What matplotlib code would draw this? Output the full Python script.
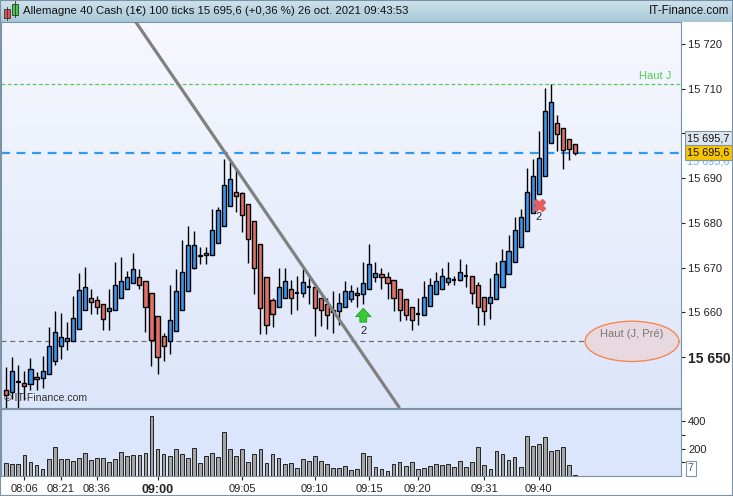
import matplotlib.pyplot as plt
import numpy as np
from matplotlib.patches import Rectangle, Ellipse
import matplotlib.transforms as mtransforms

plt.rcParams['font.family'] = ['Liberation Sans', 'DejaVu Sans']

# --- data (100 ticks candles, DAX cash) ---
opens = [15642.6, 15642.1, 15644.4, 15644.3, 15643.9, 15645.6, 15645.4, 15646.1, 15649.2, 15652.4,
         15653.5, 15653.6, 15656.2, 15660.6, 15663.1, 15662.7, 15661.8, 15660.2, 15660.4, 15663.3,
         15665.1, 15666.5, 15668.0, 15667.1, 15664.2, 15659.1, 15654.6, 15653.5, 15655.9, 15660.4,
         15664.7, 15669.8, 15672.5, 15672.7, 15672.9, 15675.6, 15679.2, 15683.7, 15686.8, 15686.6,
         15684.1, 15680.3, 15675.2, 15668.0, 15662.7, 15661.1, 15663.3, 15665.1, 15664.4, 15664.2,
         15665.6, 15665.6, 15663.1, 15661.8, 15660.6, 15660.2, 15661.1, 15662.9, 15663.8, 15664.0,
         15665.3, 15668.0, 15668.5, 15668.0, 15667.3, 15665.3, 15662.9, 15661.1, 15659.7, 15659.5,
         15661.5, 15664.0, 15665.3, 15666.7, 15667.3, 15667.3, 15668.2, 15668.2, 15666.2, 15663.5,
         15662.0, 15662.9, 15665.6, 15668.5, 15671.2, 15674.7, 15678.1, 15682.3, 15686.4, 15690.4,
         15697.8, 15702.3, 15701.1, 15698.7, 15697.6]
highs = [15647.7, 15650.0, 15648.2, 15646.9, 15649.7, 15646.7, 15650.2, 15656.7, 15660.2, 15659.8,
         15657.8, 15663.7, 15668.8, 15670.1, 15665.1, 15663.7, 15661.8, 15665.2, 15671.2, 15672.4,
         15669.2, 15673.2, 15669.7, 15667.1, 15664.2, 15659.1, 15655.3, 15666.2, 15669.7, 15676.1,
         15679.3, 15678.2, 15674.7, 15674.7, 15683.2, 15683.5, 15694.2, 15693.7, 15692.0, 15687.0,
         15684.1, 15680.3, 15675.2, 15668.0, 15663.1, 15670.0, 15670.0, 15667.3, 15668.2, 15669.6,
         15667.6, 15665.6, 15663.1, 15663.1, 15664.7, 15664.2, 15667.1, 15666.2, 15665.6, 15671.2,
         15675.2, 15671.2, 15670.0, 15669.1, 15667.3, 15665.3, 15662.9, 15661.1, 15663.1, 15667.1,
         15667.6, 15669.1, 15670.0, 15671.2, 15668.2, 15672.0, 15670.9, 15668.2, 15666.7, 15663.5,
         15667.6, 15671.2, 15674.1, 15677.2, 15681.2, 15683.2, 15692.2, 15694.2, 15700.5, 15710.1,
         15711.0, 15704.0, 15701.1, 15698.7, 15697.6]
lows = [15638.1, 15640.7, 15638.5, 15640.4, 15642.7, 15642.7, 15643.1, 15646.1, 15648.2, 15649.5,
        15651.5, 15653.6, 15656.2, 15660.6, 15659.7, 15659.7, 15656.1, 15656.1, 15660.4, 15663.3,
        15665.1, 15666.5, 15665.1, 15655.6, 15648.1, 15646.1, 15649.2, 15650.6, 15655.9, 15660.4,
        15664.7, 15669.6, 15670.7, 15670.7, 15672.9, 15675.6, 15679.2, 15683.7, 15682.4, 15677.9,
        15671.0, 15664.1, 15655.2, 15655.2, 15656.6, 15661.1, 15663.1, 15659.7, 15660.6, 15663.5,
        15661.8, 15654.6, 15657.0, 15656.2, 15655.3, 15657.1, 15661.1, 15662.2, 15661.1, 15661.8,
        15665.3, 15666.7, 15665.1, 15663.0, 15660.2, 15658.1, 15658.2, 15656.1, 15657.1, 15659.5,
        15661.5, 15664.0, 15665.3, 15666.2, 15666.2, 15667.1, 15665.6, 15661.8, 15657.1, 15657.1,
        15658.6, 15662.9, 15665.6, 15668.5, 15671.2, 15674.7, 15678.1, 15682.3, 15686.4, 15690.4,
        15697.8, 15696.0, 15692.0, 15694.0, 15695.1]
closes = [15641.6, 15646.8, 15644.4, 15643.6, 15647.4, 15645.0, 15646.8, 15652.4, 15655.7, 15654.4,
          15654.2, 15658.8, 15664.9, 15665.6, 15662.2, 15661.1, 15658.6, 15660.9, 15666.0, 15667.1,
          15667.9, 15669.7, 15666.2, 15661.1, 15653.9, 15650.1, 15652.4, 15658.2, 15664.7, 15668.9,
          15675.0, 15675.0, 15672.9, 15673.2, 15678.4, 15682.8, 15688.4, 15689.9, 15686.1, 15681.7,
          15676.3, 15670.0, 15660.9, 15657.1, 15659.7, 15665.6, 15667.1, 15663.1, 15664.4, 15666.7,
          15665.6, 15660.9, 15660.4, 15659.5, 15660.0, 15662.0, 15664.7, 15664.7, 15664.2, 15666.5,
          15670.9, 15668.7, 15667.8, 15666.5, 15663.3, 15660.6, 15659.5, 15658.2, 15659.7, 15663.5,
          15666.2, 15666.9, 15668.2, 15667.6, 15667.3, 15668.9, 15668.2, 15664.2, 15661.1, 15660.2,
          15663.5, 15668.5, 15671.4, 15673.8, 15678.5, 15681.2, 15686.8, 15690.4, 15694.4, 15704.9,
          15707.0, 15699.8, 15696.2, 15696.4, 15695.6]
volumes = [93, 85, 85, 151, 100, 78, 49, 122, 210, 122,
           122, 107, 129, 166, 115, 129, 129, 100, 122, 173,
           144, 151, 151, 166, 437, 195, 159, 144, 195, 159,
           129, 203, 93, 144, 166, 137, 320, 195, 144, 195,
           100, 159, 195, 93, 159, 129, 85, 93, 56, 122,
           107, 144, 107, 85, 56, 56, 71, 42, 49, 166,
           144, 63, 49, 34, 85, 100, 71, 100, 49, 56,
           71, 85, 78, 85, 63, 107, 63, 100, 210, 78,
           49, 181, 159, 115, 137, 63, 291, 217, 232, 283,
           181, 188, 210, 78, 5]

time_labels = ['08:06', '08:21', '08:36', '09:00', '09:05', '09:10', '09:15', '09:20', '09:31', '09:40']
time_pos = [3, 9, 15, 25, 39, 51, 60, 68, 79, 88]

last_price = 15695.6
prev_price = 15695.7
haut_j = 15711.0
haut_j_pre = 15653.5
trend_x = [21.4, 65.0]
trend_y = [15724.9, 15638.6]

blue = '#3a96ee'
red = '#e07068'
edge = '#7a93a6'

fig = plt.figure(figsize=(7.33, 4.96), dpi=100)
fig.patch.set_facecolor('white')

W, H = 733, 496
def box(x0, y0, x1, y1):
    return [x0 / W, 1 - y1 / H, (x1 - x0) / W, (y1 - y0) / H]

# title bar
axt = fig.add_axes(box(0, 0, 733, 22))
grad = np.linspace(0, 1, 50).reshape(-1, 1)
axt.imshow(grad, cmap=plt.matplotlib.colors.LinearSegmentedColormap.from_list('t', ['#cfe3ec', '#a7c6d6']),
           aspect='auto', extent=[0, 1, 0, 1], origin='upper')
axt.set_xlim(0, 1)
axt.set_ylim(0, 1)
axt.axis('off')
axt.add_patch(Rectangle((0.006, 0.18), 0.008, 0.4, fc='#e05050', ec='#333333', lw=0.6))
axt.add_patch(Rectangle((0.016, 0.30), 0.008, 0.5, fc='#40d040', ec='#333333', lw=0.6))
axt.plot([0.010, 0.010], [0.08, 0.68], color='#333333', lw=0.6)
axt.plot([0.020, 0.020], [0.22, 0.95], color='#333333', lw=0.6)
axt.text(0.031, 0.48, 'Allemagne 40 Cash (1€) 100 ticks 15 695,6 (+0,36 %) 26 oct. 2021 09:43:53',
         fontsize=8.2, va='center', ha='left', color='#111111')
axt.text(0.995, 0.48, 'IT-Finance.com', fontsize=8.4, va='center', ha='right', color='#111111')

# main price panel
ax = fig.add_axes(box(1, 22, 681, 408))
axv = fig.add_axes(box(1, 409, 681, 476))

xmin, xmax = -0.87, 111.5
ymin, ymax = 15638.6, 15724.9

bg = np.linspace(0, 1, 100).reshape(-1, 1)
ax.imshow(bg, cmap=plt.matplotlib.colors.LinearSegmentedColormap.from_list('b', ['#f6f8fe', '#dce5fa']),
          aspect='auto', extent=[xmin, xmax, ymin, ymax], origin='upper', zorder=0)
axv.set_facecolor('#dbe5fb')

x = np.arange(len(opens))
o = np.array(opens)
c = np.array(closes)
up = c > o + 0.2
dn = c < o - 0.2
doji = ~(up | dn)

ax.vlines(x, lows, highs, color='black', lw=1, zorder=3)
ax.bar(x[up], (c - o)[up], bottom=o[up], width=0.68, color=blue, edgecolor='black', lw=1, zorder=4)
ax.bar(x[dn], (o - c)[dn], bottom=c[dn], width=0.68, color=red, edgecolor='black', lw=1, zorder=4)
ax.hlines(o[doji], x[doji] - 0.36, x[doji] + 0.36, color='black', lw=1.6, zorder=4)

# horizontal reference lines
ax.axhline(last_price, color='#3399ee', lw=1.6, ls=(0, (4, 3)), zorder=2)
ax.axhline(haut_j, color='#55cc55', lw=0.9, ls=(0, (3, 2)), zorder=2)
ax.axhline(haut_j_pre, color='#707070', lw=0.9, ls=(0, (4, 3)), zorder=2)
ax.text(107.2, 15712.9, 'Haut J', color='#55cc55', fontsize=8, ha='center', va='center')

# ellipse label
ax.add_patch(Ellipse((103.4, haut_j_pre), 15.5, 9.0, fc='#e8d9e0', ec='#f28a50', lw=1, zorder=5))
ax.text(103.4, 15655.2, 'Haut (J, Pré)', color='#777777', fontsize=8, ha='center', va='center', zorder=6)

# trend line
ax.plot(trend_x, trend_y, color='#808080', lw=2.3, zorder=5, solid_capstyle='butt')

# signals
ax.annotate('', xy=(59, 15660.9), xytext=(59, 15657.8),
            arrowprops=dict(arrowstyle='simple,head_width=1.0,head_length=0.55,tail_width=0.45',
                            mutation_scale=11, fc='#33cc33', ec='#229922', lw=0.6,
                            shrinkA=0, shrinkB=0), zorder=6)
ax.text(59, 15655.9, '2', fontsize=8, ha='center', va='center', color='#222222')
ax.plot(88, 15684.0, marker='X', ms=9, color='#e06060', mec='#e06060', zorder=6)
ax.text(88, 15681.3, '2', fontsize=8, ha='center', va='center', color='#222222')

ax.text(0.004, 0.012, '© IT-Finance.com', transform=ax.transAxes, fontsize=7.6, color='#333333',
        ha='left', va='bottom')

ax.set_xlim(xmin, xmax)
ax.set_ylim(ymin, ymax)
ax.set_xticks([])
ax.yaxis.tick_right()
yt = list(range(15650, 15730, 10))
ax.set_yticks(yt)
# the 15 700 label sits under the price tags
ax.set_yticklabels(['' if v == 15700 else f'{v:,}'.replace(',', ' ') for v in yt], fontsize=8)
ax.tick_params(axis='y', length=3, width=0.8, pad=2, colors='#222222')
tl = ax.get_yticklabels()[0]
tl.set_fontweight('bold')
tl.set_fontsize(10)
for sp in ax.spines.values():
    sp.set_color(edge)

# price tags on the right
trans = mtransforms.blended_transform_factory(ax.transAxes, ax.transData)
ax.text(1.009, 15693.8, '15 695,6', transform=trans, fontsize=7.8, color='#66aaff', va='center',
        ha='left', clip_on=False, zorder=7)
ax.text(1.009, 15698.9, '15 695,7', transform=trans, fontsize=7.8, color='#111111', va='center', ha='left',
        clip_on=False, zorder=8,
        bbox=dict(boxstyle='square,pad=0.22', fc='#dde5ef', ec='#8094a8', lw=0.8))
ax.text(1.009, 15695.75, '15 695,6', transform=trans, fontsize=7.8, color='#111111', va='center', ha='left',
        clip_on=False, zorder=9,
        bbox=dict(boxstyle='square,pad=0.22', fc='#f7c400', ec='#8094a8', lw=0.8))

# volume panel
axv.bar(x, volumes, width=0.62, color='#a6a6a6', edgecolor='#222222', lw=0.7, zorder=3)
axv.set_xlim(xmin, xmax)
axv.set_ylim(0, 488)
axv.yaxis.tick_right()
axv.set_yticks([100, 200, 300, 400])
axv.set_yticklabels(['', '200', '', '400'], fontsize=8)
axv.tick_params(axis='y', length=3, width=0.8, pad=2, colors='#222222')
axv.set_xticks(time_pos)
axv.set_xticklabels(time_labels, fontsize=8)
axv.tick_params(axis='x', length=3, width=0.8, pad=3, colors='#222222')
lab = axv.get_xticklabels()[3]
lab.set_fontweight('bold')
lab.set_fontsize(9)
for sp in axv.spines.values():
    sp.set_color(edge)
axv.text(1.01, 55, '7', transform=mtransforms.blended_transform_factory(axv.transAxes, axv.transData),
         fontsize=7.5, color='#555555', va='center', ha='left', clip_on=False,
         bbox=dict(boxstyle='square,pad=0.2', fc='white', ec='#8094a8', lw=0.8))

# outer frame
fig.add_artist(Rectangle((0, 0), 1, 1, transform=fig.transFigure, fill=False, ec=edge, lw=1.5))

fig.savefig('out.png', dpi=100)
